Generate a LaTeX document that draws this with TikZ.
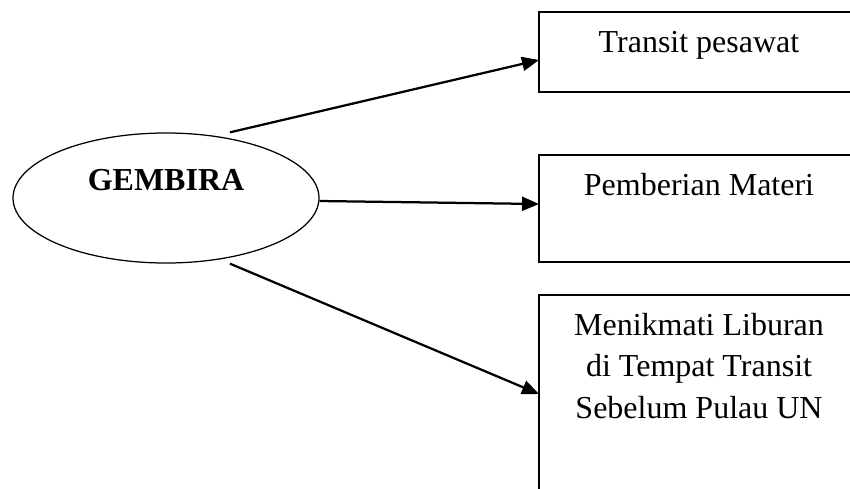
\documentclass[tikz,border=0pt]{standalone}
\usepackage{fontspec}
\setmainfont{Liberation Serif}
\usetikzlibrary{shapes.geometric, arrows.meta, positioning}

\begin{document}
\begin{tikzpicture}[
      x=0.4pt, y=0.4pt,
      every node/.style={font=\fontsize{12.8}{16.6}\selectfont},
      mainidea/.style={
        ellipse,
        draw=black,
        line width=0.5pt,
        minimum width=122.4pt,
        minimum height=52pt,
        inner sep=0pt,
        text height=9pt,
        text depth=15.4pt,
        font=\fontsize{12.8}{16.6}\selectfont\bfseries
      },
      activity/.style={
        rectangle,
        draw=black,
        line width=0.7pt,
        minimum width=128pt,
        inner sep=0pt,
        outer sep=0pt,
        align=center,
        text height=16pt
      },
      arrow/.style={
        line width=0.9pt,
        -{Triangle[length=6.8pt, width=5.6pt]}
      }
    ]
    \useasboundingbox (0,0) rectangle (850,488);
    \clip (0,0) rectangle (850,488);

    % Main node
    \node (gembira) [mainidea] at (166,290) {GEMBIRA};

    % Activity boxes
    \node (transit) [activity, anchor=north west, text depth=16pt] at (539,476) {Transit pesawat};
    \node (materi) [activity, below=25.2pt of transit, text depth=26.8pt] {Pemberian Materi};
    \node (liburan) [activity, below=13.2pt of materi, text height=49.2pt, text depth=40.8pt] {Menikmati Liburan\\di Tempat Transit\\Sebelum Pulau UN};

    % Arrows
    \draw [arrow] ([yshift=2.4pt]gembira.43) -- ([yshift=-3.2pt]transit.west);
    \draw [arrow] ([yshift=-1.2pt]gembira.east) -- ([yshift=1.8pt]materi.west);
    \draw [arrow] ([yshift=-2.4pt]gembira.-43) -- ([yshift=-39.6pt]liburan.north west);

\end{tikzpicture}
\end{document}
